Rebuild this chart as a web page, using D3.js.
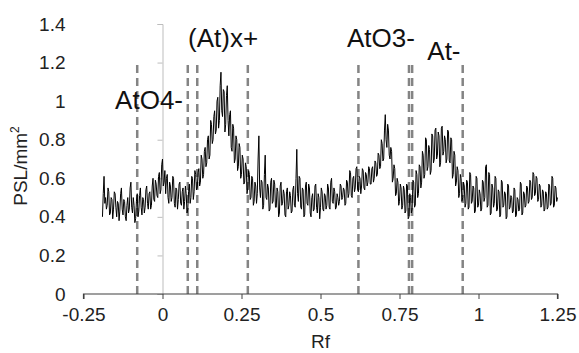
<!DOCTYPE html>
<html>
<head>
<meta charset="utf-8">
<script src="https://cdn.jsdelivr.net/npm/d3@7"></script>
<style>
  html, body { margin: 0; padding: 0; background: #fff; }
  svg { display: block; font-family: "Liberation Sans", Arial, sans-serif; }
</style>
</head>
<body>
<svg id="chart" width="579" height="353"></svg>
<script>
// ---- data ----
const rfStart = -0.19, rfStep = 0.0025;
const psl = [
  0.40,0.52,0.61,0.47,0.50,0.44,0.46,0.55,0.53,0.41,0.42,0.50,0.49,0.39,0.44,0.53,0.52,0.45,0.40,0.48,
  0.47,0.38,0.43,0.52,0.55,0.44,0.41,0.49,0.48,0.40,0.38,0.46,0.50,0.42,0.44,0.55,0.58,0.45,0.42,0.50,
  0.46,0.37,0.39,0.48,0.52,0.40,0.43,0.51,0.55,0.45,0.41,0.50,0.49,0.42,0.45,0.54,0.56,0.47,0.44,0.52,
  0.53,0.44,0.46,0.56,0.60,0.49,0.48,0.59,0.57,0.51,0.50,0.61,0.63,0.52,0.54,0.67,0.70,0.56,0.58,0.64,
  0.52,0.60,0.62,0.50,0.47,0.58,0.56,0.48,0.50,0.61,0.60,0.47,0.45,0.55,0.54,0.44,0.49,0.57,0.58,0.47,
  0.46,0.53,0.55,0.44,0.48,0.56,0.52,0.42,0.44,0.53,0.57,0.47,0.50,0.61,0.60,0.49,0.53,0.64,0.62,0.54,
  0.55,0.63,0.65,0.56,0.58,0.72,0.70,0.60,0.62,0.74,0.76,0.66,0.68,0.80,0.82,0.70,0.72,0.90,0.88,0.78,
  0.80,0.92,0.95,0.83,0.85,1.00,1.02,0.86,0.90,1.08,1.15,0.95,0.92,1.06,1.05,0.84,0.88,1.03,1.08,0.90,
  0.82,0.93,0.95,0.76,0.74,0.88,0.86,0.68,0.70,0.82,0.80,0.64,0.66,0.78,0.76,0.60,0.62,0.72,0.70,0.57,
  0.58,0.68,0.66,0.52,0.55,0.64,0.62,0.49,0.50,0.61,0.60,0.46,0.48,0.58,0.56,0.47,0.52,0.70,0.82,0.55,
  0.50,0.59,0.58,0.44,0.46,0.62,0.72,0.50,0.49,0.57,0.55,0.43,0.44,0.58,0.60,0.47,0.48,0.59,0.57,0.45,
  0.45,0.55,0.53,0.40,0.42,0.56,0.58,0.46,0.47,0.54,0.52,0.41,0.40,0.53,0.55,0.44,0.46,0.53,0.51,0.42,
  0.43,0.54,0.56,0.46,0.45,0.60,0.75,0.52,0.48,0.61,0.60,0.45,0.44,0.55,0.54,0.40,0.41,0.56,0.58,0.47,
  0.46,0.57,0.55,0.42,0.40,0.50,0.52,0.43,0.44,0.56,0.57,0.45,0.42,0.52,0.50,0.39,0.45,0.55,0.53,0.44,
  0.43,0.52,0.51,0.44,0.46,0.57,0.55,0.45,0.44,0.58,0.60,0.48,0.47,0.55,0.53,0.44,0.45,0.52,0.50,0.46,
  0.48,0.57,0.56,0.49,0.50,0.55,0.54,0.46,0.47,0.59,0.58,0.50,0.52,0.64,0.63,0.51,0.50,0.60,0.61,0.53,
  0.55,0.65,0.66,0.54,0.53,0.61,0.60,0.52,0.56,0.65,0.64,0.55,0.54,0.63,0.62,0.56,0.58,0.66,0.65,0.57,
  0.57,0.65,0.66,0.58,0.60,0.69,0.68,0.61,0.62,0.73,0.72,0.65,0.66,0.80,0.78,0.69,0.70,0.85,0.93,0.80,
  0.76,0.88,0.85,0.72,0.70,0.76,0.74,0.58,0.60,0.67,0.65,0.51,0.52,0.60,0.58,0.46,0.48,0.57,0.55,0.44,
  0.46,0.56,0.54,0.42,0.43,0.57,0.56,0.39,0.40,0.52,0.50,0.42,0.44,0.59,0.58,0.45,0.46,0.64,0.62,0.50,
  0.52,0.67,0.66,0.55,0.58,0.74,0.72,0.60,0.62,0.81,0.80,0.64,0.66,0.77,0.75,0.62,0.64,0.83,0.82,0.68,
  0.70,0.85,0.86,0.70,0.72,0.84,0.82,0.66,0.68,0.86,0.87,0.72,0.74,0.82,0.80,0.68,0.70,0.85,0.84,0.69,
  0.68,0.81,0.80,0.60,0.62,0.74,0.72,0.56,0.58,0.66,0.64,0.50,0.52,0.62,0.60,0.48,0.50,0.58,0.56,0.45,
  0.47,0.59,0.58,0.44,0.45,0.63,0.62,0.47,0.48,0.56,0.55,0.42,0.43,0.61,0.60,0.45,0.46,0.54,0.52,0.43,
  0.44,0.59,0.58,0.48,0.50,0.66,0.67,0.45,0.46,0.63,0.62,0.41,0.42,0.57,0.55,0.45,0.47,0.61,0.60,0.43,
  0.44,0.54,0.53,0.40,0.41,0.59,0.58,0.45,0.46,0.53,0.52,0.39,0.40,0.57,0.56,0.44,0.45,0.51,0.50,0.42,
  0.43,0.55,0.54,0.40,0.41,0.50,0.49,0.43,0.44,0.58,0.57,0.41,0.42,0.53,0.52,0.45,0.46,0.56,0.55,0.47,
  0.48,0.59,0.58,0.49,0.50,0.63,0.62,0.51,0.52,0.61,0.60,0.48,0.49,0.57,0.56,0.45,0.46,0.54,0.53,0.43,
  0.44,0.53,0.52,0.44,0.45,0.57,0.56,0.46,0.47,0.61,0.60,0.45,0.46,0.56,0.55,0.48,0.50
];
const markerRf = [-0.08, 0.08, 0.11, 0.27, 0.62, 0.78, 0.79, 0.95];
const markerTop = 1.2;
const labelText = ["AtO4-", "(At)x+", "AtO3-", "At-"];
const labelRf   = [-0.15, 0.081, 0.584, 0.838];
const labelPsl  = [0.96, 1.28, 1.28, 1.212];
const xTicks = [-0.25, 0, 0.25, 0.5, 0.75, 1, 1.25];
const yTicks = [0, 0.2, 0.4, 0.6, 0.8, 1, 1.2, 1.4];

// ---- chart ----
const svg = d3.select("#chart");
const x = d3.scaleLinear().domain([-0.25, 1.25]).range([83.5, 557.5]);
const y = d3.scaleLinear().domain([0, 1.4]).range([294, 24]);

const series = psl.map((v, i) => ({ rf: rfStart + i * rfStep, v }));

// y axis (at Rf = 0)
const yAxis = svg.append("g")
  .attr("transform", `translate(${x(0)},0)`)
  .call(d3.axisLeft(y).tickValues(yTicks).tickSize(5).tickPadding(92)
    .tickFormat(d => d3.format("")(+d.toFixed(1))));
yAxis.select(".domain").attr("stroke", "#bdbdbd").attr("stroke-width", 1);
yAxis.selectAll(".tick line").attr("stroke", "#bdbdbd");
yAxis.selectAll(".tick text").attr("font-size", 19).attr("fill", "#222")
  .attr("font-family", "Liberation Sans, Arial, sans-serif");

// dashed markers
svg.append("g").selectAll("line").data(markerRf).join("line")
  .attr("x1", d => x(d)).attr("x2", d => x(d))
  .attr("y1", y(0)).attr("y2", y(markerTop))
  .attr("stroke", "#848484").attr("stroke-width", 2.5)
  .attr("stroke-dasharray", "8,5");

// data line
svg.append("path").datum(series)
  .attr("fill", "none").attr("stroke", "#000").attr("stroke-width", 1)
  .attr("d", d3.line().x(d => x(d.rf)).y(d => y(d.v)));

// x axis
const xAxis = svg.append("g")
  .attr("transform", `translate(0,${y(0)})`)
  .call(d3.axisBottom(x).tickValues(xTicks).tickSize(5).tickPadding(9)
    .tickFormat(d => String(d)));
xAxis.select(".domain").attr("stroke", "#404040").attr("stroke-width", 1.2)
  .attr("d", `M${x(-0.25)},5V0H${x(1.25)}V5`);
xAxis.selectAll(".tick line").attr("stroke", "#404040");
xAxis.selectAll(".tick text").attr("font-size", 19).attr("fill", "#222")
  .attr("font-family", "Liberation Sans, Arial, sans-serif");

// axis titles
svg.append("text").attr("x", x(0.5)).attr("y", 348)
  .attr("text-anchor", "middle").attr("font-size", 19).attr("fill", "#222")
  .text("Rf");
const yt = svg.append("text")
  .attr("transform", `translate(27,166) rotate(-90)`)
  .attr("text-anchor", "middle").attr("font-size", 19).attr("fill", "#222");
yt.append("tspan").text("PSL/mm");
yt.append("tspan").attr("font-size", 12).attr("dy", -8).text("2");

// peak labels
svg.append("g").selectAll("text").data(labelText).join("text")
  .attr("x", (d, i) => x(labelRf[i]))
  .attr("y", (d, i) => y(labelPsl[i]))
  .attr("font-size", 26).attr("fill", "#111")
  .text(d => d);
</script>
</body>
</html>
